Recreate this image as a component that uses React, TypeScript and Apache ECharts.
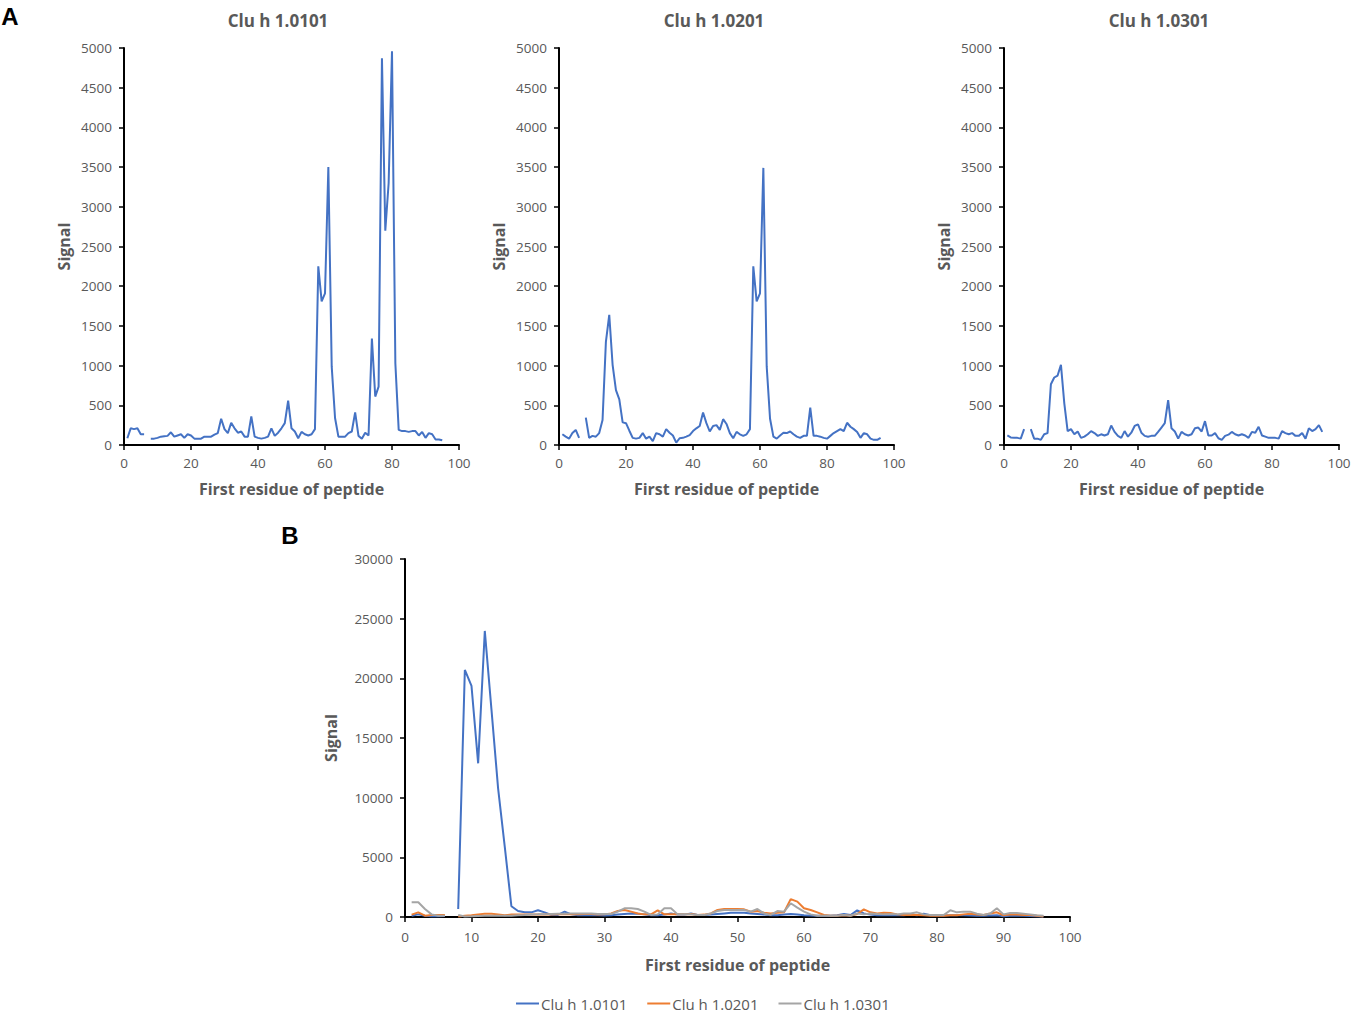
import React, { useEffect, useRef } from "react";
import * as echarts from "echarts";

// First residue of peptide: 1..96 (index + 1)
const RESIDUE_COUNT = 96;

const panelTitles = ["Clu h 1.0101", "Clu h 1.0201", "Clu h 1.0301"];
const seriesNames = ["Clu h 1.0101", "Clu h 1.0201", "Clu h 1.0301"];

const a0101 = [85, 210, 200, 210, 135, 135, null, 80, 80, 90, 105, 110, 115, 160, 105, 120, 135, 90, 135, 120,
  80, 80, 80, 105, 105, 105, 130, 150, 330, 200, 150, 280, 210, 155, 170, 105, 105, 360, 105, 90,
  80, 90, 105, 210, 115, 155, 210, 275, 560, 210, 170, 85, 165, 135, 120, 135, 200, 2250, 1810, 1910,
  3500, 990, 340, 105, 105, 105, 150, 170, 410, 115, 80, 155, 120, 1340, 610, 735, 4870, 2700, 3300, 4960,
  1030, 190, 175, 175, 165, 175, 175, 120, 165, 90, 150, 135, 70, 70, 60];

const a0201 = [135, 105, 80, 150, 190, 90, null, 345, 90, 115, 105, 150, 315, 1300, 1640, 1010, 690, 575, 285, 275,
  180, 90, 80, 90, 150, 80, 105, 50, 150, 135, 105, 200, 155, 120, 30, 85, 90, 105, 125, 175,
  210, 240, 410, 275, 170, 240, 250, 190, 325, 265, 150, 85, 165, 135, 115, 135, 200, 2250, 1810, 1910,
  3490, 990, 330, 105, 80, 120, 155, 150, 170, 135, 105, 90, 115, 115, 470, 115, 115, 105, 90, 80,
  115, 150, 175, 200, 175, 280, 230, 200, 165, 90, 150, 135, 80, 65, 65, 90];

const a0301 = [120, 95, 90, 90, 80, 200, null, 200, 80, 80, 65, 135, 150, 765, 850, 875, 1010, 525, 175, 200,
  135, 170, 90, 105, 135, 175, 150, 115, 135, 120, 135, 245, 165, 115, 90, 175, 105, 155, 240, 260,
  155, 115, 105, 115, 115, 165, 220, 275, 565, 210, 170, 80, 165, 135, 120, 135, 210, 220, 170, 300,
  120, 120, 150, 85, 65, 115, 130, 165, 135, 120, 135, 120, 90, 165, 155, 230, 120, 105, 90, 90,
  90, 80, 175, 150, 135, 150, 115, 115, 150, 80, 210, 175, 200, 250, 165];

const b0101 = [110, 220, 110, 60, 60, 80, null, 670, 20700, 19360, 12880, 23970, 17400, 10780, 5900, 900, 500, 390, 390, 560,
  390, 170, 170, 450, 220, 150, 150, 150, 150, 120, 150, 200, 250, 300, 280, 220, 150, 150, 200, 300,
  200, 200, 300, 170, 170, 200, 250, 300, 350, 350, 350, 300, 250, 200, 150, 150, 200, 250, 200, 150,
  120, 100, 100, 110, 150, 250, 170, 560, 300, 200, 150, 150, 150, 150, 150, 200, 150, 280, 150, 120,
  120, 150, 150, 150, 120, 100, 100, 120, 150, 60, 100, 100, 100, 80, 60, 50];

const b0201 = [200, 390, 110, 170, 170, 170, null, 50, 100, 150, 220, 280, 280, 220, 150, 200, 200, 200, 220, 200,
  200, 200, 220, 220, 220, 220, 250, 250, 200, 220, 300, 500, 590, 450, 300, 220, 220, 560, 220, 220,
  220, 220, 250, 170, 200, 300, 590, 670, 670, 670, 640, 450, 500, 350, 300, 350, 400, 1500, 1290, 730,
  590, 390, 170, 110, 110, 150, 110, 250, 640, 390, 300, 360, 330, 220, 170, 170, 170, 150, 110, 120,
  110, 150, 150, 220, 280, 200, 170, 300, 390, 150, 200, 200, 170, 170, 110, 50];

const b0301 = [1230, 1230, 670, 220, 110, 110, null, 170, 50, 60, 80, 100, 100, 110, 110, 110, 150, 170, 200, 220,
  220, 250, 280, 280, 300, 300, 300, 300, 250, 250, 250, 450, 730, 730, 670, 450, 170, 220, 730, 730,
  220, 220, 220, 170, 170, 300, 500, 590, 590, 590, 590, 450, 670, 300, 170, 500, 450, 1150, 780, 450,
  220, 110, 110, 110, 110, 170, 110, 300, 220, 300, 250, 220, 220, 220, 300, 300, 390, 220, 170, 170,
  170, 560, 390, 450, 450, 280, 170, 300, 730, 220, 330, 330, 280, 220, 150, 110];

const aTicks = { min: 0, max: 5000, interval: 500 };
const bTicks = { min: 0, max: 30000, interval: 5000 };
const xTicksA = { min: 0, max: 100, interval: 20 };
const xTicksB = { min: 0, max: 100, interval: 10 };

const colors = ["#4472C4", "#ED7D31", "#A5A5A5"];

const FONT = "'Open Sans', 'Noto Sans', sans-serif";
const GREY = "#595959";

function toPairs(values: (number | null)[]) {
  const out: any[] = [];
  for (let i = 0; i < values.length && i < RESIDUE_COUNT; i++) {
    const v = values[i];
    out.push([i + 1, v == null ? "-" : v]);
  }
  return out;
}

const plain = (v: number) => String(v);

function makeX(gridIndex: number, ticks: any, nameGap: number, margin: number) {
  return {
    type: "value",
    gridIndex,
    min: ticks.min,
    max: ticks.max,
    interval: ticks.interval,
    name: "First residue of peptide",
    nameLocation: "middle",
    nameGap,
    nameTextStyle: { color: GREY, fontFamily: FONT, fontWeight: "bold", fontSize: 16 },
    axisLine: { show: true, onZero: false, lineStyle: { color: "#000", width: 2 } },
    axisTick: { show: true, length: 5, lineStyle: { color: "#000", width: 1.5 } },
    axisLabel: { color: GREY, fontFamily: FONT, fontSize: 13.5, margin, formatter: plain },
    splitLine: { show: false },
  };
}

function makeY(gridIndex: number, ticks: any, nameGap: number) {
  return {
    type: "value",
    gridIndex,
    min: ticks.min,
    max: ticks.max,
    interval: ticks.interval,
    name: "Signal",
    nameLocation: "middle",
    nameRotate: 90,
    nameGap,
    nameTextStyle: { color: GREY, fontFamily: FONT, fontWeight: "bold", fontSize: 16 },
    axisLine: { show: true, lineStyle: { color: "#000", width: 2 } },
    axisTick: { show: true, length: 5, lineStyle: { color: "#000", width: 1.5 } },
    axisLabel: { color: GREY, fontFamily: FONT, fontSize: 13.5, margin: 12, formatter: plain },
    splitLine: { show: false },
  };
}

function lineSeries(name: string, values: (number | null)[], color: string, idx: number) {
  return {
    type: "line",
    name,
    xAxisIndex: idx,
    yAxisIndex: idx,
    data: toPairs(values),
    showSymbol: false,
    symbol: "none",
    connectNulls: false,
    lineStyle: { color, width: 2 },
    itemStyle: { color },
    emphasis: { disabled: true },
  };
}

function textEl(text: string, x: number, y: number, size: number, fill: string, family: string) {
  return {
    type: "text",
    x,
    y,
    style: {
      text,
      fill,
      font: `bold ${size}px ${family}`,
      textAlign: "center",
      textVerticalAlign: "middle",
      align: "center",
      verticalAlign: "middle",
    },
  };
}

export default function App() {
  const ref = useRef<HTMLDivElement>(null);
  useEffect(() => {
    if (!ref.current) return;
    const chart = echarts.init(ref.current, undefined, { renderer: "svg" });
    const option: any = {
      animation: false,
      backgroundColor: "#ffffff",
      textStyle: { fontFamily: FONT },
      grid: [
        { left: 124, top: 48, width: 335, height: 397 },
        { left: 559, top: 48, width: 335, height: 397 },
        { left: 1004, top: 48, width: 335, height: 397 },
        { left: 405, top: 559, width: 665, height: 358 },
      ],
      xAxis: [
        makeX(0, xTicksA, 36, 11),
        makeX(1, xTicksA, 36, 11),
        makeX(2, xTicksA, 36, 11),
        makeX(3, xTicksB, 40, 13),
      ],
      yAxis: [makeY(0, aTicks, 52), makeY(1, aTicks, 52), makeY(2, aTicks, 52), makeY(3, bTicks, 66)],
      legend: {
        data: seriesNames,
        left: 511,
        top: 991,
        icon: "rect",
        itemWidth: 23,
        itemHeight: 2,
        itemGap: 20,
        textStyle: { color: GREY, fontFamily: FONT, fontSize: 15, padding: [0, 0, 0, -3] },
      },
      graphic: [
        textEl(panelTitles[0], 278, 20, 17, GREY, FONT),
        textEl(panelTitles[1], 714, 20, 17, GREY, FONT),
        textEl(panelTitles[2], 1159, 20, 17, GREY, FONT),
        textEl("A", 10, 16, 24, "#000", "Arial, 'Liberation Sans', sans-serif"),
        textEl("B", 290, 535, 24, "#000", "Arial, 'Liberation Sans', sans-serif"),
      ],
      series: [
        lineSeries("A 1.0101", a0101, colors[0], 0),
        lineSeries("A 1.0201", a0201, colors[0], 1),
        lineSeries("A 1.0301", a0301, colors[0], 2),
        lineSeries(seriesNames[0], b0101, colors[0], 3),
        lineSeries(seriesNames[1], b0201, colors[1], 3),
        lineSeries(seriesNames[2], b0301, colors[2], 3),
      ],
    };
    chart.setOption(option);
    return () => chart.dispose();
  }, []);
  return (
    <div
      ref={ref}
      style={{ position: "absolute", left: 0, top: 0, width: 1357, height: 1014, background: "#fff" }}
    />
  );
}
